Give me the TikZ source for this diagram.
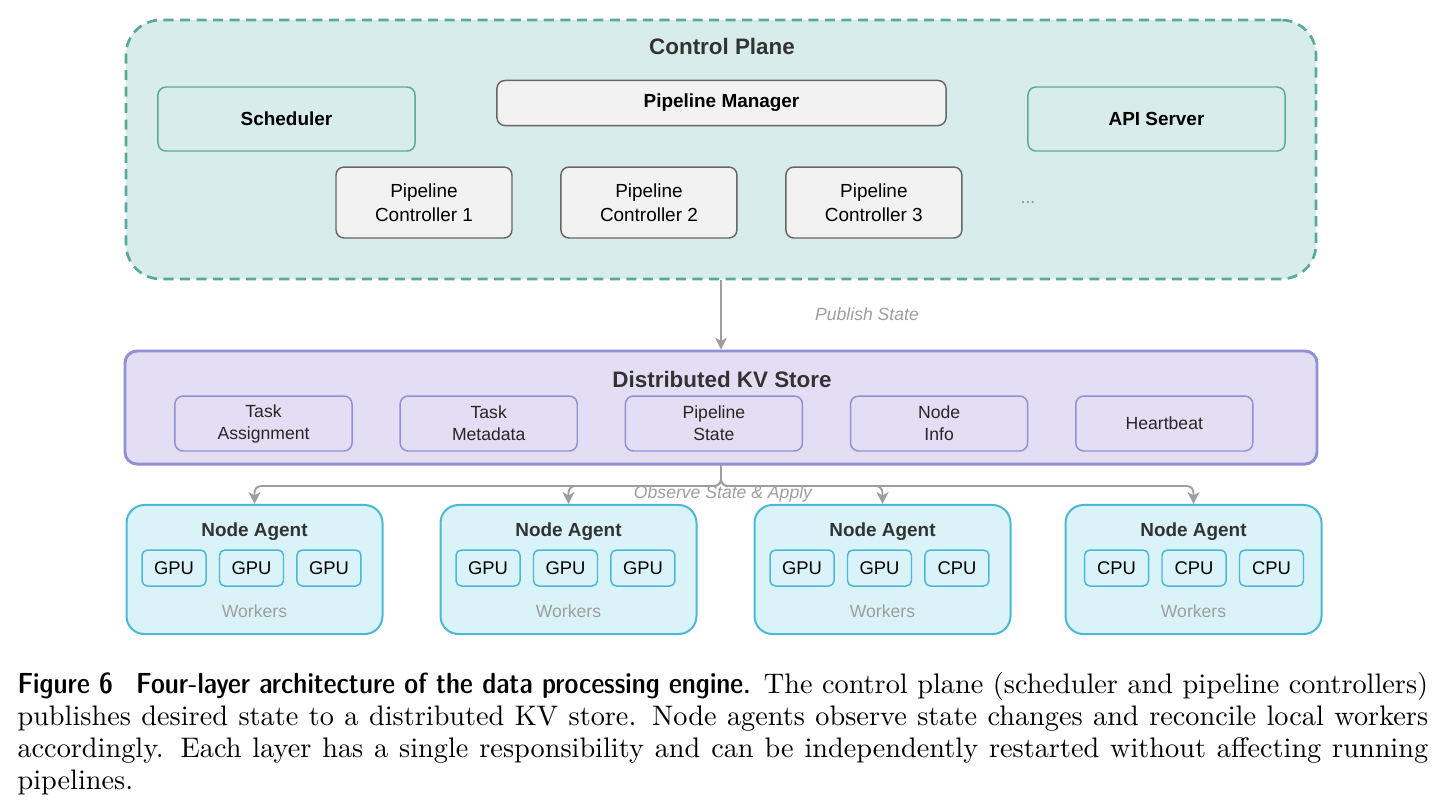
\documentclass[tikz,border=0pt]{standalone}
\usepackage{fontspec}
\newfontfamily\diagfont{Liberation Sans}
\usepackage{tikz}
\usetikzlibrary{arrows.meta, positioning}

\definecolor{planefill}{HTML}{D8ECEB}
\definecolor{planeline}{HTML}{5AAA9B}
\definecolor{mgrfill}{HTML}{F2F2F2}
\definecolor{mgrline}{HTML}{666666}
\definecolor{kvfill}{HTML}{E4DEF4}
\definecolor{kvline}{HTML}{9090D2}
\definecolor{agentfill}{HTML}{D9F3F9}
\definecolor{agentline}{HTML}{4CB8D7}
\definecolor{flowgrey}{HTML}{9E9E9E}
\definecolor{titlegrey}{HTML}{333333}

\begin{document}
\begin{tikzpicture}[
        x=0.375pt, y=-0.375pt,
        every node/.style={font=\diagfont\fontsize{7.1}{9}\selectfont, inner sep=0pt},
        plane/.style={rectangle, draw=planeline, fill=planefill, line width=1pt, dash pattern=on 3.8pt off 2.4pt, rounded corners=13pt, minimum width=446.25pt, minimum height=97.1pt},
        cpbox/.style={rectangle, draw=planeline, fill=planefill, line width=0.55pt, rounded corners=3pt, minimum width=96.4pt, minimum height=24pt, font=\diagfont\bfseries\fontsize{7.1}{9}\selectfont},
        greybox/.style={rectangle, draw=mgrline, fill=mgrfill, line width=0.55pt, rounded corners=3pt, align=center},
        ctrl/.style={greybox, minimum width=66pt, minimum height=26.6pt},
        kvstore/.style={rectangle, draw=kvline, fill=kvfill, line width=1.1pt, rounded corners=4.5pt, minimum width=447pt, minimum height=42.4pt},
        kvitem/.style={rectangle, draw=kvline, fill=kvfill, line width=0.55pt, rounded corners=3pt, minimum width=66.4pt, minimum height=20.6pt, align=center, text=black!85, font=\diagfont\fontsize{6.6}{8.25}\selectfont},
        agent/.style={rectangle, draw=agentline, fill=agentfill, line width=0.75pt, rounded corners=6.75pt, minimum width=96pt, minimum height=48.4pt},
        chip/.style={rectangle, draw=agentline, fill=agentfill, line width=0.55pt, rounded corners=2pt, minimum width=24pt, minimum height=13.5pt, font=\diagfont\fontsize{6.9}{8}\selectfont},
        layertitle/.style={text=titlegrey, font=\diagfont\bfseries\fontsize{8.4}{10}\selectfont},
        agtitle/.style={text=titlegrey, font=\diagfont\bfseries\fontsize{7.1}{9}\selectfont},
        note/.style={text=flowgrey, font=\diagfont\itshape\fontsize{6.6}{8}\selectfont},
        workers/.style={text=flowgrey, font=\diagfont\fontsize{6.6}{8}\selectfont},
        arrow/.style={-{Stealth[length=4.5pt, width=4.5pt, inset=1.3pt]}, draw=flowgrey, line width=0.7pt},
        caption/.style={anchor=north west, text width=529pt, align=justify, font=\rmfamily\fontsize{10.6}{12}\selectfont}
    ]
    \useasboundingbox (0,0) rectangle (1445,810);

    % Control plane
    \node[plane] (plane) at (721,149.5) {};
    \node[layertitle] (planetitle) at (722,46) {Control Plane};
    \node[cpbox] (sched) at (286.5,119) {Scheduler};
    \node[greybox, minimum width=168.4pt, minimum height=16.9pt, font=\diagfont\bfseries\fontsize{7.1}{9}\selectfont] (mgr) at (721.5,103) {Pipeline Manager};
    \node[cpbox] (api) at (1156.5,119) {API Server};
    \node[ctrl] (pc1) at (424,202.5) {Pipeline\\Controller 1};
    \node[ctrl, right=17.8pt of pc1] (pc2) {Pipeline\\Controller 2};
    \node[ctrl, right=17.8pt of pc2] (pc3) {Pipeline\\Controller 3};
    \node[workers, anchor=base, text=black!45] (more) at (1028,203.5) {...};

    % KV store
    \node[kvstore] (kv) at (721,407.5) {};
    \node[layertitle] (kvtitle) at (722,379) {Distributed KV Store};
    \node[kvitem] (kv1) at (263.5,423.5) {Task\\Assignment};
    \node[kvitem, right=17.5pt of kv1] (kv2) {Task\\Metadata};
    \node[kvitem, right=17.5pt of kv2] (kv3) {Pipeline\\State};
    \node[kvitem, right=17.5pt of kv3] (kv4) {Node\\Info};
    \node[kvitem, right=17.5pt of kv4] (kv5) {Heartbeat};

    % Node agents
    \node[agent] (a1) at (254.5,569.5) {};
    \node[agent] (a2) at (568.5,569.5) {};
    \node[agent] (a3) at (882.5,569.5) {};
    \node[agent] (a4) at (1193.5,569.5) {};
    \node[agtitle] (a1t) at (254.5,532) {Node Agent};
    \node[agtitle] (a2t) at (568.5,532) {Node Agent};
    \node[agtitle] (a3t) at (882.5,532) {Node Agent};
    \node[agtitle] (a4t) at (1193.5,532) {Node Agent};

    \node[chip] (a1c2) at (251.5,568) {GPU};
    \node[chip, left=4.5pt of a1c2] (a1c1) {GPU};
    \node[chip, right=4.5pt of a1c2] (a1c3) {GPU};
    \node[chip] (a2c2) at (565.5,568) {GPU};
    \node[chip, left=4.5pt of a2c2] (a2c1) {GPU};
    \node[chip, right=4.5pt of a2c2] (a2c3) {GPU};
    \node[chip] (a3c2) at (879.5,568) {GPU};
    \node[chip, left=4.5pt of a3c2] (a3c1) {GPU};
    \node[chip, right=4.5pt of a3c2] (a3c3) {CPU};
    \node[chip] (a4c2) at (1194,568) {CPU};
    \node[chip, left=4.5pt of a4c2] (a4c1) {CPU};
    \node[chip, right=4.5pt of a4c2] (a4c3) {CPU};

    \node[workers] (a1w) at (254.5,611.5) {Workers};
    \node[workers] (a2w) at (568.5,611.5) {Workers};
    \node[workers] (a3w) at (882.5,611.5) {Workers};
    \node[workers] (a4w) at (1193.5,611.5) {Workers};

    % Arrows
    \draw[arrow] (plane) -- (kv);
    \node[note] (publish) at (867,314) {Publish State};
    \coordinate (bus) at (721,486);
    \draw[arrow, rounded corners=2.5pt] (kv.south) -- (bus) -| (a1.north);
    \draw[arrow, rounded corners=2.5pt] (kv.south) -- (bus) -| (a2.north);
    \draw[arrow, rounded corners=2.5pt] (kv.south) -- (bus) -| (a3.north);
    \draw[arrow, rounded corners=2.5pt] (kv.south) -- (bus) -| (a4.north);
    \node[note] (observe) at (723,494) {Observe State \& Apply};

    % Caption
    \node[caption] (cap) at (17,672) {{\sffamily\fontseries{sbc}\fontsize{10.9}{12}\selectfont Figure 6\hspace{0.8em}Four-layer architecture of the data processing engine.} The control plane (scheduler and pipeline controllers)\linebreak publishes desired state to a distributed KV store. Node agents observe state changes and reconcile local workers\linebreak accordingly. Each layer has a single responsibility and can be independently restarted without affecting running\linebreak pipelines.};
\end{tikzpicture}
\end{document}
